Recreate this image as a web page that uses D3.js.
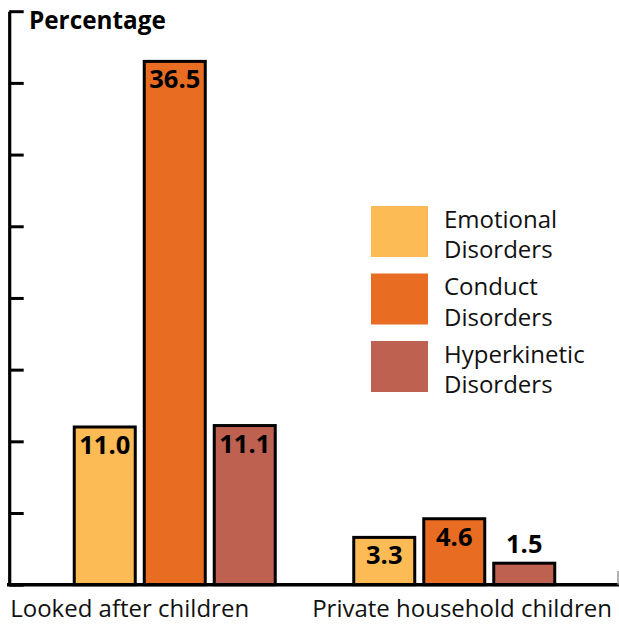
<!DOCTYPE html>
<html>
<head>
<meta charset="utf-8">
<script src="https://cdn.jsdelivr.net/npm/d3@7/dist/d3.min.js"></script>
<style>
  html, body { margin: 0; padding: 0; background: #fff; }
  svg { display: block; font-family: "Open Sans", "Noto Sans", sans-serif; }
</style>
</head>
<body>
<svg id="chart" width="619" height="624"></svg>
<script>
// Prevalence of mental disorders by group (percent)
const groups = ["Looked after children", "Private household children"];
const series = ["Emotional Disorders", "Conduct Disorders", "Hyperkinetic Disorders"];
const legendLines = [["Emotional", "Disorders"], ["Conduct", "Disorders"], ["Hyperkinetic", "Disorders"]];
const emotional = [11.0, 3.3];
const conduct = [36.5, 4.6];
const hyperkinetic = [11.1, 1.5];
const yTicks = [0, 5, 10, 15, 20, 25, 30, 35, 40];
const colors = ["#FDBB55", "#E86C22", "#BE6150"];

const values = [emotional, conduct, hyperkinetic];
const rows = [];
groups.forEach((g, gi) => series.forEach((s, si) => rows.push({ group: g, series: s, si, value: values[si][gi] })));

const svg = d3.select("#chart");

const axisX = 9.2;
const baseY = 584.7;

const y = d3.scaleLinear().domain([0, 40]).range([baseY, 11.2]);
const x0 = d3.scaleBand().domain(groups).range([35, 594]).paddingInner(0).paddingOuter(0);
const x1 = d3.scaleBand().domain(series).range([-100.5, 100.5]).paddingInner(9 / 70).paddingOuter(0);

// Y axis: vertical rule with inward ticks every 5 units
const yAxis = d3.axisRight(y).tickValues(yTicks).tickSize(14.5).tickFormat("").tickSizeOuter(0);
const gy = svg.append("g").attr("transform", `translate(${axisX},0)`).call(yAxis);
gy.select(".domain").attr("stroke", "#000").attr("stroke-width", 3.2);
gy.selectAll(".tick line").attr("stroke", "#000").attr("stroke-width", 3);

// Bars
const bars = svg.append("g");
bars.selectAll("rect").data(rows).join("rect")
  .attr("x", d => x0(d.group) + x0.bandwidth() / 2 + x1(d.series))
  .attr("y", d => y(d.value))
  .attr("width", x1.bandwidth())
  .attr("height", d => y(0) - y(d.value))
  .attr("fill", d => colors[d.si])
  .attr("stroke", "#000")
  .attr("stroke-width", 3);

// Value labels: inside the top of the bar, or above it when the bar is short
bars.selectAll("text").data(rows).join("text")
  .attr("x", d => x0(d.group) + x0.bandwidth() / 2 + x1(d.series) + x1.bandwidth() / 2)
  .attr("y", d => (y(0) - y(d.value) > 35) ? y(d.value) + 27 : y(d.value) - 10)
  .attr("text-anchor", "middle")
  .attr("font-size", 25.5)
  .attr("font-weight", 700)
  .attr("fill", "#000")
  .text(d => d3.format(".1f")(d.value));

// Baseline with end marker
svg.append("line").attr("x1", 7).attr("x2", 619).attr("y1", baseY).attr("y2", baseY)
  .attr("stroke", "#000").attr("stroke-width", 3.6);
svg.append("line").attr("x1", 618).attr("x2", 618).attr("y1", 571).attr("y2", baseY)
  .attr("stroke", "#999").attr("stroke-width", 1.5);

// Axis title
svg.append("text").attr("x", 29).attr("y", 29)
  .attr("font-size", 24.3).attr("font-weight", 700).attr("fill", "#000")
  .text("Percentage");

// Category labels
svg.append("text").attr("x", axisX + 1).attr("y", 617)
  .attr("font-size", 24).attr("fill", "#111").attr("text-anchor", "start")
  .text(groups[0]);
svg.append("text").attr("x", 612).attr("y", 617)
  .attr("font-size", 24).attr("fill", "#111").attr("text-anchor", "end")
  .text(groups[1]);

// Legend
const legend = svg.append("g").attr("transform", "translate(371,206)");
const item = legend.selectAll("g").data(series).join("g")
  .attr("transform", (d, i) => `translate(0,${i * 67.5})`);
item.append("rect").attr("width", 57).attr("height", 51).attr("fill", (d, i) => colors[i]);
item.each(function (d, i) {
  const t = d3.select(this).append("text").attr("font-size", 24).attr("fill", "#111");
  legendLines[i].forEach((line, li) => {
    t.append("tspan").attr("x", 73).attr("y", 21.8 + li * 30.5).text(line);
  });
});
</script>
</body>
</html>
